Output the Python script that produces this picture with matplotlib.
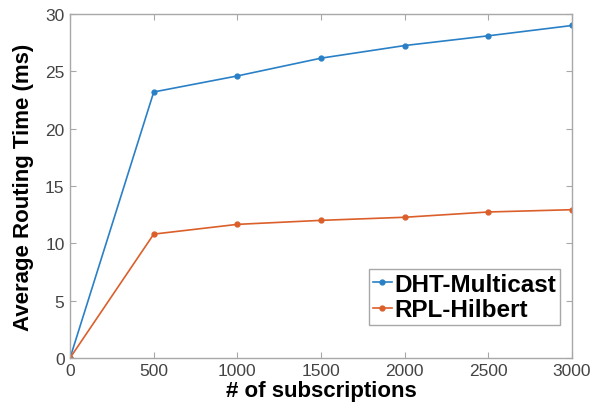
import matplotlib
matplotlib.use("Agg")
import matplotlib.pyplot as plt

plt.rcParams['font.family'] = ['Liberation Sans', 'DejaVu Sans']

x = [0, 500, 1000, 1500, 2000, 2500, 3000]
dht = [0, 23.2, 24.6, 26.15, 27.25, 28.1, 29.0]
rpl = [0, 10.8, 11.65, 12.0, 12.27, 12.73, 12.93]
xticks = [0, 500, 1000, 1500, 2000, 2500, 3000]
yticks = [0, 5, 10, 15, 20, 25, 30]

fig = plt.figure(figsize=(5.99, 4.06), dpi=100)
ax = fig.add_axes([0.117, 0.116, 0.838, 0.847])
ax.plot(x, dht, '-', color='#2A80C6', marker='o', markersize=3.5, linewidth=1.2, label='DHT-Multicast')
ax.plot(x, rpl, '-', color='#DB5F2A', marker='o', markersize=3.5, linewidth=1.2, label='RPL-Hilbert')
ax.set_xlim(0, 3000)
ax.set_ylim(0, 30)
ax.set_xticks(xticks)
ax.set_yticks(yticks)
for s in ax.spines.values():
    s.set_color('#A8A8A8')
    s.set_linewidth(1.0)
ax.tick_params(direction='in', top=True, right=True, colors='#A8A8A8', labelcolor='#444444',
               labelsize=12.5, length=4, pad=4)
ax.set_xlabel('# of subscriptions', fontsize=16, fontweight='bold', labelpad=1)
ax.set_ylabel('Average Routing Time (ms)', fontsize=16, fontweight='bold', labelpad=8)
leg = ax.legend(loc='lower right', bbox_to_anchor=(0.976, 0.096),
                prop={'weight': 'bold', 'size': 17.5}, fancybox=False, framealpha=1,
                edgecolor='#A8A8A8', handlelength=0.8, handletextpad=0.1,
                borderpad=0.15, labelspacing=0.1, borderaxespad=0)
leg.get_frame().set_linewidth(1.0)
fig.savefig('out.png', dpi=100)
